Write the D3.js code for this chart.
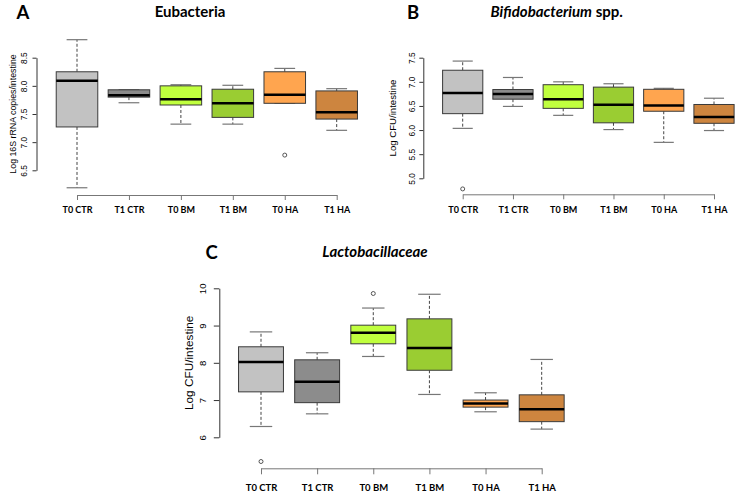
<!DOCTYPE html>
<html>
<head>
<meta charset="utf-8">
<script src="https://cdn.jsdelivr.net/npm/d3@7"></script>
<style>
  body { margin: 0; background: #fff; }
  svg text { fill: #000; }
</style>
</head>
<body>
<div id="chart"></div>
<script>
/* groups shared by the three panels */
var groups = ["T0 CTR", "T1 CTR", "T0 BM", "T1 BM", "T0 HA", "T1 HA"];
var boxColors = ["#c2c2c2", "#8c8c8c", "#c0ff3e", "#9acd32", "#ffa54f", "#cd853f"];

/* box stats per group: [lower whisker, Q1, median, Q3, upper whisker] */
var eubacteria = [
  [6.19, 7.27, 8.09, 8.25, 8.82],
  [7.70, 7.80, 7.835, 7.93, 7.93],
  [7.32, 7.66, 7.76, 8.00, 8.02],
  [7.32, 7.44, 7.69, 7.94, 8.01],
  [7.69, 7.69, 7.84, 8.25, 8.31],
  [7.21, 7.41, 7.53, 7.91, 7.95]
];
var eubOutliers = [[], [], [], [], [6.77], []];
var eubTicks = [6.5, 7.0, 7.5, 8.0, 8.5];

var bifido = [
  [6.035, 6.34, 6.77, 7.24, 7.43],
  [6.49, 6.64, 6.75, 6.84, 7.09],
  [6.305, 6.45, 6.64, 6.94, 7.00],
  [6.01, 6.15, 6.525, 6.89, 6.96],
  [5.745, 6.39, 6.51, 6.845, 6.865],
  [5.99, 6.14, 6.27, 6.53, 6.66]
];
var bifOutliers = [[4.78], [], [], [], [], []];
var bifTicks = [5.0, 5.5, 6.0, 6.5, 7.0, 7.5];

var lacto = [
  [6.29, 7.22, 8.02, 8.43, 8.83],
  [6.63, 6.93, 7.49, 8.08, 8.27],
  [8.17, 8.51, 8.805, 9.01, 9.47],
  [7.15, 7.80, 8.40, 9.18, 9.84],
  [6.685, 6.81, 6.91, 7.00, 7.195],
  [6.22, 6.42, 6.75, 7.14, 8.09]
];
var lacOutliers = [[5.35], [], [9.86], [], [], []];
var lacTicks = [6, 7, 8, 9, 10];

var svg = d3.select("#chart").append("svg")
    .attr("width", 739).attr("height", 497);

var panels = [
  {letter: "A", title: [["Eubacteria", "normal"]], titleX: 190, titleY: 17, letterX: 23, letterY: 19,
   stats: eubacteria, outliers: eubOutliers, ticks: eubTicks, fmt: ".1f",
   xRange: [77, 336.7], yRange: [170.3, 57.7], xAxisY: 195, yAxisX: 36.5,
   tickFont: 8.4, tickOff: 9.5, ylab: "Log 16S rRNA copies/intestine", ylabX: 15.5, ylabFont: 8.8,
   xFont: 9, xTick: 5, xPad: 6.5, yTick: 4},
  {letter: "B", title: [["Bifidobacterium", "italic"], [" spp.", "normal"]], titleX: 556.7, titleY: 17, letterX: 413, letterY: 19,
   stats: bifido, outliers: bifOutliers, ticks: bifTicks, fmt: ".1f",
   xRange: [462.7, 714], yRange: [178.3, 57.7], xAxisY: 194.3, yAxisX: 423.3,
   tickFont: 8.4, tickOff: 8.8, ylab: "Log CFU/intestine", ylabX: 395.5, ylabFont: 9.6,
   xFont: 9, xTick: 5, xPad: 7, yTick: 4},
  {letter: "C", title: [["Lactobacillaceae", "italic"]], titleX: 375, titleY: 257, letterX: 211.7, letterY: 259,
   stats: lacto, outliers: lacOutliers, ticks: lacTicks, fmt: "d",
   xRange: [261, 541.7], yRange: [437.3, 288.3], xAxisY: 468.3, yAxisX: 219.3,
   tickFont: 9.6, tickOff: 13.3, ylab: "Log CFU/intestine", ylabX: 192.5, ylabFont: 11.8,
   xFont: 9.5, xTick: 6, xPad: 9.5, yTick: 5.5}
];

panels.forEach(function(p) {
  var g = svg.append("g");

  var x = d3.scalePoint().domain(groups).range(p.xRange);
  var y = d3.scaleLinear()
      .domain([p.ticks[0], p.ticks[p.ticks.length - 1]])
      .range(p.yRange);
  var bw = x.step() * 0.8;

  /* panel letter and title */
  g.append("text")
      .attr("x", p.letterX).attr("y", p.letterY)
      .attr("text-anchor", "middle")
      .style("font-family", "Lato, 'Open Sans', sans-serif")
      .style("font-weight", "bold").style("font-size", "18.5px")
      .text(p.letter);

  var t = g.append("text")
      .attr("x", p.titleX).attr("y", p.titleY)
      .attr("text-anchor", "middle")
      .style("font-family", "Lato, 'Open Sans', sans-serif")
      .style("font-weight", "bold").style("font-size", "15px");
  p.title.forEach(function(part) {
    t.append("tspan").style("font-style", part[1]).text(part[0]);
  });

  /* y axis */
  var ya = g.append("g")
      .attr("transform", "translate(" + p.yAxisX + ",0)")
      .call(d3.axisLeft(y).tickValues(p.ticks).tickFormat(d3.format(p.fmt))
        .tickSize(p.yTick).tickSizeOuter(0));
  ya.select(".domain").attr("stroke", "#333");
  ya.selectAll(".tick line").attr("stroke", "#333");
  ya.selectAll("text")
      .attr("x", null).attr("dy", null)
      .attr("text-anchor", "middle")
      .attr("transform", "translate(" + (-p.tickOff) + ",0) rotate(-90)")
      .style("font-family", "'Liberation Sans', Arial, sans-serif")
      .style("font-size", p.tickFont + "px")
      .attr("fill", "#333");

  g.append("text")
      .attr("transform", "translate(" + p.ylabX + "," + ((p.yRange[0] + p.yRange[1]) / 2) + ") rotate(-90)")
      .attr("text-anchor", "middle")
      .style("font-family", "'Liberation Sans', Arial, sans-serif")
      .style("font-size", p.ylabFont + "px")
      .attr("fill", "#222")
      .text(p.ylab);

  /* x axis */
  var xa = g.append("g")
      .attr("transform", "translate(0," + p.xAxisY + ")")
      .call(d3.axisBottom(x).tickSize(p.xTick).tickSizeOuter(0).tickPadding(p.xPad));
  xa.select(".domain").attr("stroke", "#777");
  xa.selectAll(".tick line").attr("stroke", "#777");
  xa.selectAll("text")
      .style("font-family", "Lato, 'Open Sans', sans-serif")
      .style("font-weight", "bold")
      .style("font-size", p.xFont + "px")
      .attr("fill", "#000");

  /* boxes */
  var box = g.selectAll(".box")
    .data(p.stats)
    .enter().append("g")
      .attr("class", "box")
      .attr("transform", function(d, i) { return "translate(" + x(groups[i]) + ",0)"; });

  // whiskers
  box.append("line")
      .attr("y1", function(d) { return y(d[3]); })
      .attr("y2", function(d) { return y(d[4]); })
      .attr("stroke", "#444").attr("stroke-dasharray", "3,2");
  box.append("line")
      .attr("y1", function(d) { return y(d[1]); })
      .attr("y2", function(d) { return y(d[0]); })
      .attr("stroke", "#444").attr("stroke-dasharray", "3,2");

  // caps
  box.selectAll(".cap")
    .data(function(d) { return [d[0], d[4]]; })
    .enter().append("line")
      .attr("class", "cap")
      .attr("x1", -bw / 4).attr("x2", bw / 4)
      .attr("y1", function(v) { return y(v); })
      .attr("y2", function(v) { return y(v); })
      .attr("stroke", "#777").attr("stroke-width", 1.2);

  box.append("rect")
      .attr("x", -bw / 2)
      .attr("width", bw)
      .attr("y", function(d) { return y(d[3]); })
      .attr("height", function(d) { return y(d[1]) - y(d[3]); })
      .attr("fill", function(d, i) { return boxColors[i]; })
      .attr("stroke", "#3a3a3a").attr("stroke-width", 1);

  box.append("line")
      .attr("x1", -bw / 2).attr("x2", bw / 2)
      .attr("y1", function(d) { return y(d[2]); })
      .attr("y2", function(d) { return y(d[2]); })
      .attr("stroke", "#000").attr("stroke-width", 2.5);

  // outliers
  p.outliers.forEach(function(list, i) {
    g.selectAll(null)
      .data(list)
      .enter().append("circle")
        .attr("cx", x(groups[i]))
        .attr("cy", function(v) { return y(v); })
        .attr("r", 2)
        .attr("fill", "none")
        .attr("stroke", "#444").attr("stroke-width", 0.9);
  });
});
</script>
</body>
</html>
